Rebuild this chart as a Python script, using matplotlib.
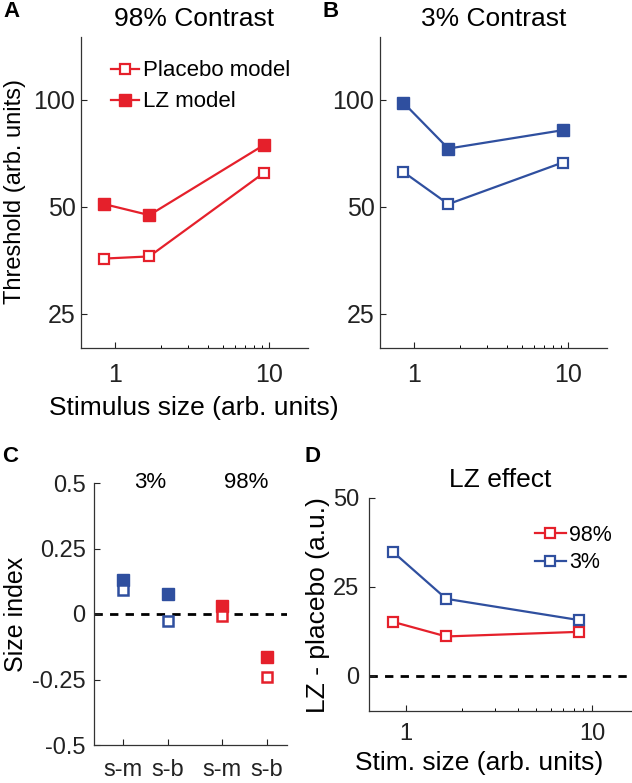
import numpy as np
import matplotlib
matplotlib.use("Agg")
import matplotlib.pyplot as plt
from matplotlib.ticker import FixedLocator, NullLocator, NullFormatter

plt.rcParams['font.family'] = ['Liberation Sans', 'DejaVu Sans']
plt.rcParams['axes.unicode_minus'] = False

RED = '#e5202b'
BLUE = '#2f4f9f'

# stimulus sizes (arb. units)
sizes = [0.85, 1.67, 9.25]
sizes_d = [0.855, 1.65, 8.55]

# thresholds (arb. units)
placebo_98 = [35.7, 36.2, 62.1]
lz_98 = [50.8, 47.3, 74.4]
placebo_3 = [62.6, 50.8, 66.5]
lz_3 = [98.1, 72.8, 82.0]

# size index
si_labels = ['s-m', 's-b', 's-m', 's-b']
si_pos = [1, 2, 3.2, 4.2]
si_lz_3 = [0.13, 0.075]
si_pl_3 = [0.092, -0.025]
si_lz_98 = [0.032, -0.165]
si_pl_98 = [-0.008, -0.239]

# LZ - placebo
diff_98 = [15.1, 11.0, 12.3]
diff_3 = [34.8, 21.6, 15.6]

W, H = 632, 783
fig = plt.figure(figsize=(W / 100, H / 100), dpi=100)


def px_axes(l, t, r, b):
    return fig.add_axes([l / W, 1 - b / H, (r - l) / W, (b - t) / H])


def style(ax, fs):
    ax.spines['top'].set_visible(False)
    ax.spines['right'].set_visible(False)
    for s in ('left', 'bottom'):
        ax.spines[s].set_color('#333333')
        ax.spines[s].set_linewidth(0.9)
    ax.tick_params(direction='in', length=4, width=0.8, labelsize=fs, colors='#222222')
    ax.tick_params(which='minor', direction='in', length=2.5, width=0.7)


mk = dict(marker='s', lw=1.6)
open_kw = dict(markersize=7.5, markerfacecolor='white', markeredgewidth=1.6)
fill_kw = dict(markersize=8)

# panel A and B
for i, (pl, lz, col, title) in enumerate([(placebo_98, lz_98, RED, '98% Contrast'),
                                          (placebo_3, lz_3, BLUE, '3% Contrast')]):
    left = 81 if i == 0 else 380
    ax = px_axes(left, 37, left + 227, 348)
    ax.plot(sizes, pl, color=col, markeredgecolor=col, label='Placebo model', **mk, **open_kw)
    ax.plot(sizes, lz, color=col, markeredgecolor=col, label='LZ model', **mk, **fill_kw)
    ax.set_xscale('log')
    ax.set_yscale('log')
    ax.set_xlim(0.6, 18)
    ax.set_ylim(20, 150)
    ax.xaxis.set_major_locator(FixedLocator([1, 10]))
    ax.set_xticklabels(['1', '10'])
    ax.xaxis.set_minor_locator(FixedLocator([2, 3, 4, 5, 6, 7, 8, 9]))
    ax.xaxis.set_minor_formatter(NullFormatter())
    ax.yaxis.set_major_locator(FixedLocator([25, 50, 100]))
    ax.set_yticklabels(['25', '50', '100'])
    ax.yaxis.set_minor_locator(NullLocator())
    style(ax, 18)
    ax.tick_params(axis='x', pad=11)
    ax.tick_params(axis='y', pad=4)
    ax.set_title(title, fontsize=19, pad=8)
    if i == 0:
        ax.legend(loc='upper left', bbox_to_anchor=(0.13, 0.925), frameon=False,
                  fontsize=16, handlelength=1.3, handletextpad=0.15,
                  labelspacing=0.45, borderpad=0, borderaxespad=0)

fig.text(15 / W, 1 - 192 / H, 'Threshold (arb. units)', rotation=90,
         ha='center', va='center', fontsize=17)
fig.text(194 / W, 1 - 415 / H, 'Stimulus size (arb. units)', ha='center',
         va='baseline', fontsize=19)

# panel C
ax = px_axes(94, 483, 287, 745)
ax.axhline(0, color='black', lw=2, ls=(0, (3, 2.6)), zorder=1)
ax.plot(si_pos[:2], si_lz_3, ls='none', marker='s', color=BLUE, markersize=8.5, zorder=3)
ax.plot(si_pos[:2], si_pl_3, ls='none', marker='s', color=BLUE, markeredgecolor=BLUE,
        markersize=7.5, markerfacecolor='white', markeredgewidth=1.8, zorder=4)
ax.plot(si_pos[2:], si_lz_98, ls='none', marker='s', color=RED, markersize=8.5, zorder=3)
ax.plot(si_pos[2:], si_pl_98, ls='none', marker='s', color=RED, markeredgecolor=RED,
        markersize=7.5, markerfacecolor='white', markeredgewidth=1.8, zorder=4)
ax.set_xlim(0.35, 4.65)
ax.set_ylim(-0.5, 0.5)
ax.set_xticks(si_pos)
ax.set_xticklabels(si_labels)
ax.set_yticks([-0.5, -0.25, 0, 0.25, 0.5])
ax.set_yticklabels(['-0.5', '-0.25', '0', '0.25', '0.5'])
style(ax, 17)
ax.tick_params(axis='x', pad=10)
ax.tick_params(axis='y', pad=6)
ax.text(1.6, 0.5, '3%', ha='center', va='center', fontsize=16)
ax.text(3.75, 0.5, '98%', ha='center', va='center', fontsize=16)
fig.text(16 / W, 1 - 614 / H, 'Size index', rotation=90, ha='center',
         va='center', fontsize=18)

# panel D
ax = px_axes(369, 498, 631, 711)
ax.axhline(0, color='black', lw=2, ls=(0, (3, 2.6)), zorder=1)
ax.plot(sizes_d, diff_98, color=RED, markeredgecolor=RED, label='98%', **mk, **open_kw)
ax.plot(sizes_d, diff_3, color=BLUE, markeredgecolor=BLUE, label='3%', **mk, **open_kw)
ax.set_xscale('log')
ax.set_xlim(0.635, 16.2)
ax.set_ylim(-10, 50)
ax.xaxis.set_major_locator(FixedLocator([1, 10]))
ax.set_xticklabels(['1', '10'])
ax.xaxis.set_minor_locator(FixedLocator([2, 3, 4, 5, 6, 7, 8, 9]))
ax.xaxis.set_minor_formatter(NullFormatter())
ax.set_yticks([0, 25, 50])
style(ax, 17)
ax.tick_params(axis='x', pad=9)
ax.tick_params(axis='y', pad=7)
ax.set_title('LZ effect', fontsize=19, pad=8)
ax.legend(loc='upper left', bbox_to_anchor=(0.635, 0.875), frameon=False,
          fontsize=15.5, handlelength=1.4, handletextpad=0.15,
          labelspacing=0.3, borderpad=0, borderaxespad=0)
fig.text(318 / W, 1 - 605 / H, 'LZ - placebo (a.u.)', rotation=90, ha='center',
         va='center', fontsize=19)
fig.text(479 / W, 1 - 770 / H, 'Stim. size (arb. units)', ha='center',
         va='baseline', fontsize=19)

# panel letters
for lab, x, y in [('A', 3, 17), ('B', 322, 17), ('C', 2, 462), ('D', 305, 462)]:
    fig.text(x / W, 1 - y / H, lab, fontsize=16, fontweight='bold', va='baseline')

fig.savefig('out.png', dpi=100)
